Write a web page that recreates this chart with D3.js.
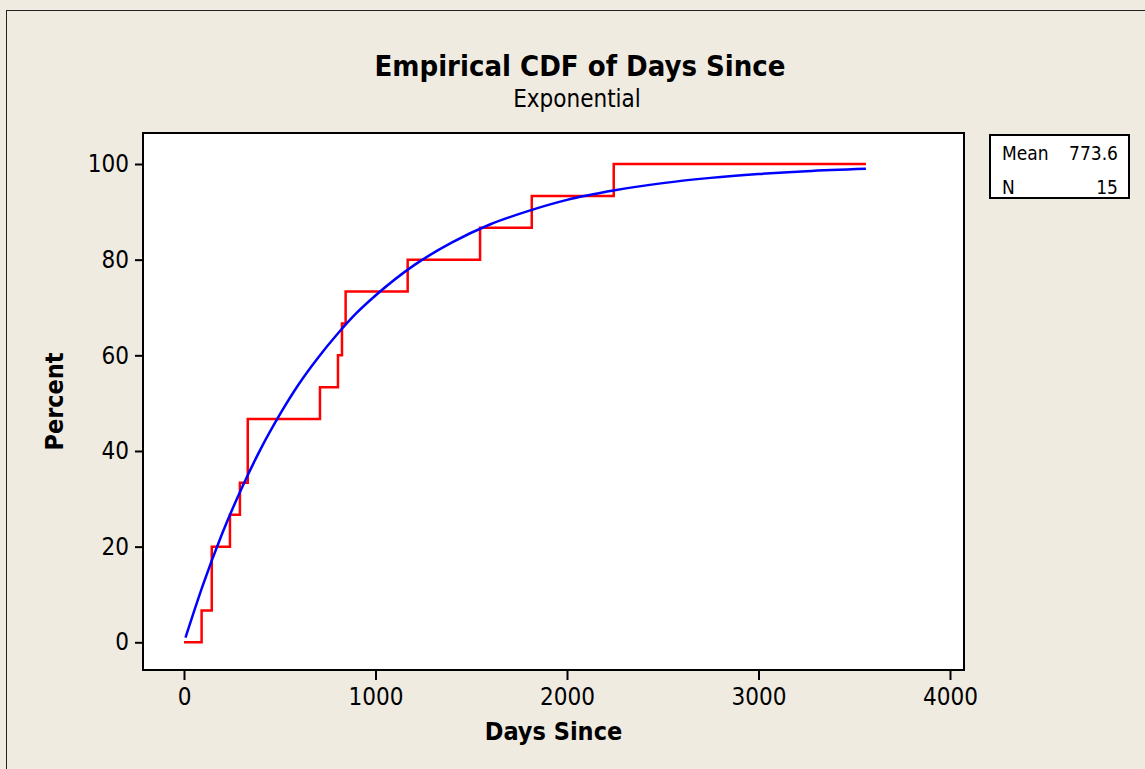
<!DOCTYPE html>
<html>
<head>
<meta charset="utf-8">
<script src="https://cdn.jsdelivr.net/npm/d3@7"></script>
<style>
  body { margin: 0; background: #efebe1; }
  text { font-family: "DejaVu Sans Condensed", "DejaVu Sans", sans-serif; fill: #000; }
</style>
</head>
<body>
<div id="chart"></div>
<script>
var daysSince = [92, 145, 145, 240, 292, 333, 333, 710, 804, 825, 844, 1168, 1546, 1816, 2244];
var lineEnd = 3561;

// fitted exponential curve
var fitDays = [8, 100, 200, 300, 400, 500, 600, 700, 800, 900, 1000, 1200, 1400, 1600, 1800, 2000, 2250, 2500, 2750, 3000, 3250, 3561];
var fitPct  = [1, 12.1, 22.8, 32.1, 40.4, 47.6, 54.0, 59.5, 64.4, 68.8, 72.5, 78.8, 83.6, 87.4, 90.2, 92.5, 94.5, 96.0, 97.1, 97.9, 98.5, 99.0];

var xTicks = [0, 1000, 2000, 3000, 4000];
var yTicks = [0, 20, 40, 60, 80, 100];
var statLabels = ["Mean", "N"];
var statValues = ["773.6", "15"];

var width = 1145, height = 769;
var frame = { left: 143, right: 964, top: 133, bottom: 670 };

var svg = d3.select("#chart").append("svg")
    .attr("width", width)
    .attr("height", height);

// outer graph border
svg.append("rect")
    .attr("x", 6.5).attr("y", 10.5)
    .attr("width", width + 20).attr("height", height + 20)
    .attr("fill", "#efebe1")
    .attr("stroke", "#222").attr("stroke-width", 1);

var x = d3.scaleLinear().domain([0, 4000]).range([184, 950]);
var y = d3.scaleLinear().domain([0, 100]).range([642.3, 164]);

// data region
svg.append("rect")
    .attr("x", frame.left).attr("y", frame.top)
    .attr("width", frame.right - frame.left)
    .attr("height", frame.bottom - frame.top)
    .attr("fill", "#fff")
    .attr("stroke", "#000").attr("stroke-width", 2);

var xAxis = d3.axisBottom(x).tickValues(xTicks).tickSize(10).tickPadding(8).tickFormat(d3.format("d"));
var yAxis = d3.axisLeft(y).tickValues(yTicks).tickSize(8).tickPadding(6).tickFormat(d3.format("d"));

var gX = svg.append("g")
    .attr("transform", "translate(0," + frame.bottom + ")")
    .call(xAxis);
var gY = svg.append("g")
    .attr("transform", "translate(" + frame.left + ",0)")
    .call(yAxis);

[gX, gY].forEach(function(g) {
  g.select(".domain").remove();
  g.selectAll(".tick line").attr("stroke", "#000").attr("stroke-width", 2);
  g.selectAll(".tick text")
      .style("font-family", '"DejaVu Sans Condensed", "DejaVu Sans", sans-serif')
      .style("font-size", "24px")
      .attr("fill", "#000");
});

// empirical step function
var sorted = daysSince.slice().sort(d3.ascending);
var n = sorted.length;
var steps = [[0, 0]];
sorted.forEach(function(d, i) {
  steps.push([d, (i + 1) / n * 100]);
});
steps.push([lineEnd, 100]);

var stepLine = d3.line()
    .x(function(d) { return x(d[0]); })
    .y(function(d) { return y(d[1]); })
    .curve(d3.curveStepAfter);

var fitLine = d3.line()
    .x(function(d) { return x(d[0]); })
    .y(function(d) { return y(d[1]); })
    .curve(d3.curveMonotoneX);

svg.append("path")
    .datum(steps)
    .attr("d", stepLine)
    .attr("fill", "none")
    .attr("stroke", "#ff0000")
    .attr("stroke-width", 2.5);

svg.append("path")
    .datum(fitDays.map(function(d, i) { return [d, fitPct[i]]; }))
    .attr("d", fitLine)
    .attr("fill", "none")
    .attr("stroke", "#0000ff")
    .attr("stroke-width", 2.5);

// titles
svg.append("text")
    .attr("x", 580).attr("y", 76)
    .attr("text-anchor", "middle")
    .style("font-size", "29px").style("font-weight", "bold")
    .text("Empirical CDF of Days Since");

svg.append("text")
    .attr("x", 577).attr("y", 107)
    .attr("text-anchor", "middle")
    .style("font-size", "24px")
    .text("Exponential");

svg.append("text")
    .attr("x", (frame.left + frame.right) / 2).attr("y", 740)
    .attr("text-anchor", "middle")
    .style("font-size", "25px").style("font-weight", "bold")
    .text("Days Since");

svg.append("text")
    .attr("transform", "translate(63," + ((frame.top + frame.bottom) / 2) + ") rotate(-90)")
    .attr("text-anchor", "middle")
    .style("font-size", "25px").style("font-weight", "bold")
    .text("Percent");

// stats box
svg.append("rect")
    .attr("x", 990).attr("y", 135)
    .attr("width", 139).attr("height", 63)
    .attr("fill", "#fff")
    .attr("stroke", "#000").attr("stroke-width", 2);

var rows = svg.selectAll(".stat")
    .data(statLabels)
  .enter().append("g")
    .attr("class", "stat")
    .attr("transform", function(d, i) { return "translate(0," + (160 + i * 33.5) + ")"; });

rows.append("text")
    .attr("x", 1002)
    .style("font-size", "19px")
    .text(function(d) { return d; });

rows.append("text")
    .attr("x", 1118)
    .attr("text-anchor", "end")
    .style("font-size", "19px")
    .text(function(d, i) { return statValues[i]; });
</script>
</body>
</html>
